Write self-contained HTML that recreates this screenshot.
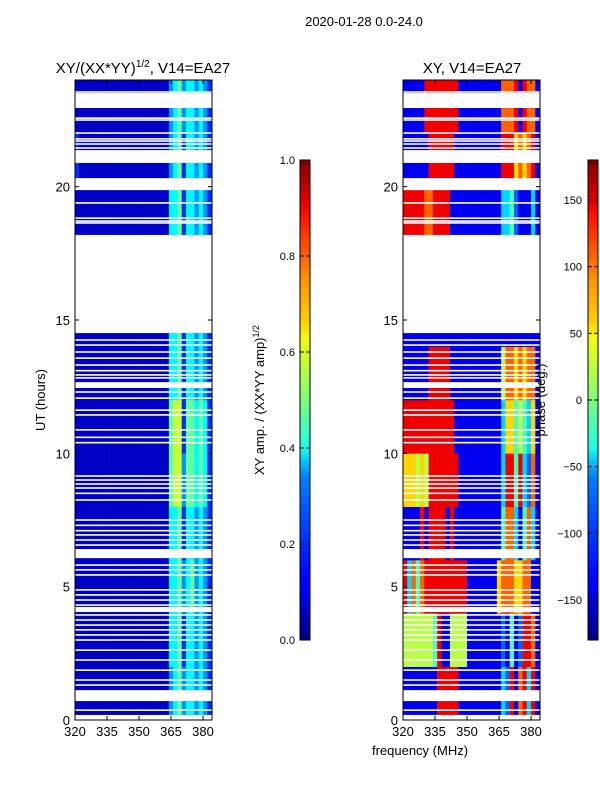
<!DOCTYPE html>
<html><head><meta charset="utf-8">
<style>
html,body{margin:0;padding:0;background:#fff;}
body{width:600px;height:800px;overflow:hidden;font-family:"Liberation Sans","DejaVu Sans",sans-serif;}
svg text{font-family:"Liberation Sans","DejaVu Sans",sans-serif;fill:#000;}
</style></head>
<body>
<svg id="fig" width="600" height="800" viewBox="0 0 600 800" xmlns="http://www.w3.org/2000/svg">
<defs>
<linearGradient id="jetv" x1="0" y1="1" x2="0" y2="0">
<stop offset="0" stop-color="#00007f"/><stop offset="0.11" stop-color="#0000ff"/><stop offset="0.125" stop-color="#0000ff"/>
<stop offset="0.34" stop-color="#0080ff"/><stop offset="0.375" stop-color="#00ccff"/><stop offset="0.4" stop-color="#1affe6"/>
<stop offset="0.5" stop-color="#7dff7a"/><stop offset="0.625" stop-color="#f0ff0f"/><stop offset="0.66" stop-color="#ffd200"/>
<stop offset="0.75" stop-color="#ff9400"/><stop offset="0.875" stop-color="#ff1a00"/><stop offset="0.91" stop-color="#e80000"/><stop offset="1" stop-color="#7f0000"/>
</linearGradient>
</defs>
<text x="364" y="26" font-size="13" text-anchor="middle">2020-01-28 0.0-24.0</text>
<text x="143" y="73" font-size="15" text-anchor="middle">XY/(XX*YY)<tspan font-size="10" dy="-6">1/2</tspan><tspan dy="6">, V14=EA27</tspan></text>
<text x="472" y="73" font-size="15" text-anchor="middle">XY, V14=EA27</text>
<g id="ampPanel"></g>
<g id="phasePanel"></g>
<g id="axes"></g>
<text transform="translate(45,400) rotate(-90)" font-size="13" text-anchor="middle">UT (hours)</text>
<text x="420" y="755" font-size="13" text-anchor="middle">frequency (MHz)</text>
<g>
<rect x="300" y="160" width="10" height="480" fill="url(#jetv)" stroke="#000" stroke-width="1"/>
</g>
<text transform="translate(264,400) rotate(-90)" font-size="13" text-anchor="middle">XY amp. / (XX*YY amp)<tspan font-size="9" dy="-5">1/2</tspan></text>
<g>
<rect x="588" y="160" width="10" height="480" fill="url(#jetv)" stroke="#000" stroke-width="1"/>
</g>
<text transform="translate(545,400) rotate(-90)" font-size="13" text-anchor="middle">phase (deg.)</text>
<g id="cbticks"></g>
</svg>
<script>
// data
const hourRows = [0,2,4,6,8,10,12,14,16,18,20,22];
const freqBins = [320,322,324,326,328,330,332,334,336,338,340,342,344,346,348,350,352,354,356,358,360,362,364,366,368,370,372,374,376,378,380,382];
const ampRows = [
"11111111111111111111113453443432",
"11111111111111111111114452443432",
"11111111111111111111114453453432",
"11111111111111111111114452443432",
"11111111111111111111115663554542",
"11111111111111111111115662554542",
"11111111111111111111114452443432",
"11111111111111111111114452443432",
"11111111111111111111114452443432",
"11111111111111111111114452443432",
"21111111111111111111113452443432",
"11111111111111111111113453443432"
];
const phaseRows = [
"11111111888881111111111328178381",
"55555554811555511111111214128871",
"83747888888888811111116777667711",
"11118188881811111111111477314731",
"66656588888881111111111388483271",
"88888888888811111111111366454361",
"11111188888111111111111577676771",
"11111111111111111111111111111111",
"11111111111111111111111111111111",
"88888778888111111111111334211131",
"11111188888811111111111888676781",
"11111888888881111111111777818771"
];
const gaps = [[23.51,22.95],[21.37,20.89],[20.32,19.87],[18.19,14.51],[12.67,12.45],[6.41,6.07],[4.24,4.05],[1.12,0.71],[0.19,0]];
const thinLines = [23.55,22.57,22.5,22.01,21.79,21.71,21.6,21.45,19.39,18.82,18.71,18.64,14.25,14.06,13.8,13.57,13.31,13.1,12.94,12.83,12.3,12.07,11.62,11.44,10.88,10.6,10.4,9.15,9.0,8.85,8.7,8.5,8.25,7.5,7.3,7.1,6.94,6.75,6.56,5.81,5.63,5.44,4.88,4.69,4.5,4.31,3.94,3.75,3.56,3.38,3.19,3.0,2.62,2.25,1.87,1.5,1.31,0.37];
const xTicks = [320,335,350,365,380];
const yTicks = [0,5,10,15,20];
const ampTicks = ["0.0","0.2","0.4","0.6","0.8","1.0"];
const phaseTicks = [-150,-100,-50,0,50,100,150];

const NS="http://www.w3.org/2000/svg";
const Y0=720,Y1=80,FMIN=320,FMAX=384.2;
function yS(h){return Y0-(h/24)*(Y0-Y1);}
function xS(x0,f){return x0+(f-FMIN)/(FMAX-FMIN)*137;}
function jet(v){v=Math.max(0,Math.min(1,v));
 const r=Math.min(4*v-1.5,-4*v+4.5),g=Math.min(4*v-0.5,-4*v+3.5),b=Math.min(4*v+0.5,-4*v+2.5);
 const c=x=>Math.round(255*Math.max(0,Math.min(1,x)));return `rgb(${c(r)},${c(g)},${c(b)})`;}
function mk(tag,attrs,parent){const e=document.createElementNS(NS,tag);for(const k in attrs)e.setAttribute(k,attrs[k]);parent.appendChild(e);return e;}

function panel(gid,x0,rows,valFn){
 const g=document.getElementById(gid);
 rows.forEach((row,i)=>{
  const h0=hourRows[i],h1=h0+2;
  for(let j=0;j<freqBins.length;j++){
   const f0=freqBins[j],f1=j+1<freqBins.length?freqBins[j+1]:FMAX;
   const xa=xS(x0,f0),xb=xS(x0,f1);
   const r=mk('rect',{x:xa,y:yS(h1),width:xb-xa+0.3,height:yS(h0)-yS(h1)+0.3,fill:jet(valFn(+row[j]))},g);
   
   
  }
 });
 gaps.forEach(gp=>{
  const r=mk('rect',{x:x0,y:yS(gp[0]),width:137,height:yS(gp[1])-yS(gp[0]),fill:'#fff'},g);
  
  
 });
 thinLines.forEach(h=>{
  const r=mk('rect',{x:x0,y:yS(h)-0.8,width:137,height:1.6,fill:'#fff'},g);
  
  
 });
}
panel('ampPanel',75,ampRows,d=>d/10-0.03);
panel('phasePanel',403,phaseRows,d=>d/9);

const ax=document.getElementById('axes');
[75,403].forEach((x0,pi)=>{
 const fr=mk('rect',{x:x0,y:80,width:137,height:640,fill:'none',stroke:'#000','stroke-width':1},ax);
 
 
 xTicks.forEach(t=>{
  const x=xS(x0,t);
  mk('line',{x1:x,y1:720,x2:x,y2:716,stroke:'#000'},ax);
  mk('line',{x1:x,y1:80,x2:x,y2:84,stroke:'#000'},ax);
  const tx=mk('text',{x:x,y:736,'font-size':13,'text-anchor':'middle'},ax);tx.textContent=t;
  
  
 });
 yTicks.forEach(t=>{
  const y=yS(t);
  mk('line',{x1:x0,y1:y,x2:x0+4,y2:y,stroke:'#000'},ax);
  mk('line',{x1:x0+137,y1:y,x2:x0+133,y2:y,stroke:'#000'},ax);
  const tx=mk('text',{x:x0-5,y:y+5,'font-size':13,'text-anchor':'end'},ax);tx.textContent=t;
  
  
 });
});
const cb=document.getElementById('cbticks');
ampTicks.forEach((t,i)=>{
 const y=640-i*96;
 mk('line',{x1:300,y1:y,x2:304,y2:y,stroke:'#000'},cb);mk('line',{x1:310,y1:y,x2:306,y2:y,stroke:'#000'},cb);
 const tx=mk('text',{x:295,y:y+4,'font-size':11,'text-anchor':'end'},cb);tx.textContent=t;
 
 
});
phaseTicks.forEach(t=>{
 const y=640-(t+180)/360*480;
 mk('line',{x1:588,y1:y,x2:592,y2:y,stroke:'#000'},cb);mk('line',{x1:598,y1:y,x2:594,y2:y,stroke:'#000'},cb);
 const tx=mk('text',{x:582,y:y+4,'font-size':11,'text-anchor':'end'},cb);tx.textContent=String(t).replace('-','\u2212');
 
 
});
</script>
</body></html>
